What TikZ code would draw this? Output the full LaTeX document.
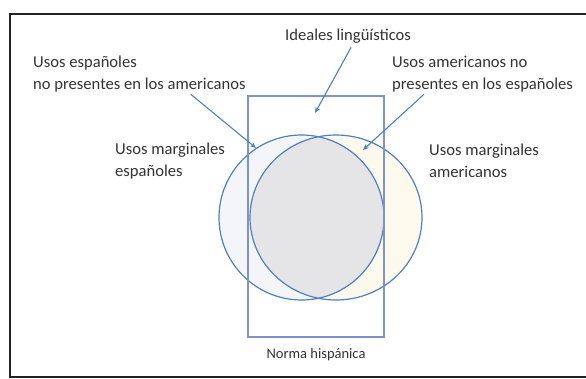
\documentclass[tikz,border=0pt]{standalone}
\usepackage{fontspec}
\setmainfont{Carlito}
\usetikzlibrary{arrows.meta, positioning}
\definecolor{circleline}{RGB}{79, 129, 189}
\definecolor{boxline}{RGB}{128, 146, 205}
\definecolor{espfill}{RGB}{244, 245, 248}
\definecolor{amefill}{RGB}{253, 249, 237}
\definecolor{normafill}{RGB}{229, 229, 231}
\definecolor{framecolor}{RGB}{35, 35, 35}

\begin{document}
\begin{tikzpicture}[
    x=1pt, y=-1pt,
    font=\fontsize{16.6}{22}\selectfont,
    % Styles
    labeltext/.style={
        align=left,
        anchor=west,
        inner sep=0pt,
        text=black!80
    },
    normabox/.style={
        rectangle,
        draw=boxline,
        line width=1.2pt,
        inner sep=0pt
    },
    circleline/.style={
        draw=circleline,
        line width=1.2pt
    },
    pointer/.style={
        -{Stealth[length=6pt, width=5pt]},
        color=circleline,
        line width=1.1pt
    }
]
\useasboundingbox (0,0) rectangle (586,379);

% --- Frame ---
\draw [framecolor, line width=2pt] (595,14) -- (10,14) -- (10,377) -- (595,377);

% --- Centres of the two sets ---
\coordinate (esp_c) at (301.5,217.5);
\coordinate (ame_c) at (336,217.5);

% --- Fills ---
\fill [espfill] (esp_c) ellipse [x radius=82.5pt, y radius=82.5pt];
\fill [amefill] (ame_c) ellipse [x radius=86pt, y radius=82.5pt];
\begin{scope}
    \clip (esp_c) ellipse [x radius=82.5pt, y radius=82.5pt];
    \fill [normafill] (ame_c) ellipse [x radius=86pt, y radius=82.5pt];
\end{scope}

% --- Outlines ---
\draw [circleline] (esp_c) ellipse [x radius=82.5pt, y radius=82.5pt];
\draw [circleline] (ame_c) ellipse [x radius=86pt, y radius=82.5pt];
\node (norma_box) [normabox, minimum width=136pt, minimum height=241pt] at (316,216.5) {};

% --- Labels ---
\node (ideal) [labeltext] at (285,36) {Ideales lingüísticos};
\node (esp_no) [labeltext] at (33,74) {Usos españoles\\no presentes en los americanos};
\node (ame_no) [labeltext] at (392,74) {Usos americanos no\\presentes en los españoles};
\node (esp_marg) [labeltext] at (115,161) {Usos marginales\\españoles};
\node (ame_marg) [labeltext] at (429,161) {Usos marginales\\americanos};
\node (norma_label) [font=\fontsize{14.5}{17}\selectfont, text=black!80, below=7pt of norma_box] {Norma hispánica};

% --- Targets ---
\coordinate (ideal_tip) at (315,113);
\coordinate (esp_tip) at (256,148);
\coordinate (ame_tip) at (363,150);

% --- Connections ---
\draw [pointer] ([xshift=3pt, yshift=-4pt]ideal.south) -- (ideal_tip);
\draw [pointer] ([xshift=-55pt, yshift=-2pt]esp_no.south east) -- (esp_tip);
\draw [pointer] ([xshift=32pt, yshift=-2pt]ame_no.south west) -- (ame_tip);

\end{tikzpicture}
\end{document}
